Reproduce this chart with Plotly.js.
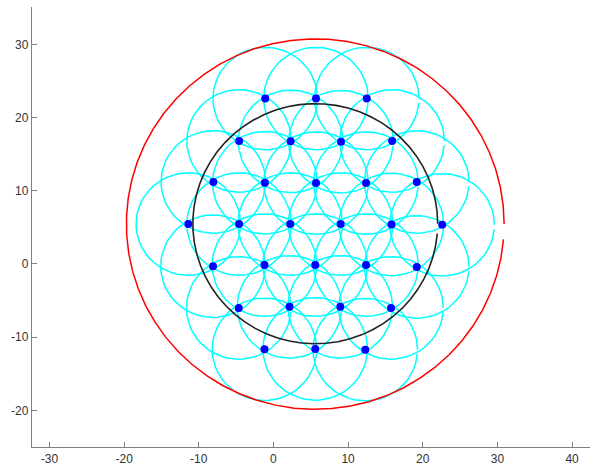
<!DOCTYPE html>
<html>
<head>
<meta charset="utf-8">
<script src="https://cdn.plot.ly/plotly-3.0.1.min.js"></script>
<style>html,body{margin:0;padding:0;background:#fff;} #chart{width:590px;height:465px;}</style>
</head>
<body>
<div id="chart"></div>
<script>
// Lattice points (blue dots)
const pointX = [
  -1.1, 5.7, 12.5,
  -4.6, 2.3, 9.05, 15.9,
  -8.05, -1.15, 5.7, 12.4, 19.2,
  -11.4, -4.6, 2.25, 9.0, 15.8, 22.6,
  -8.1, -1.2, 5.6, 12.4, 19.2,
  -4.65, 2.15, 8.95, 15.75,
  -1.2, 5.6, 12.3
];
const pointY = [
  22.6, 22.6, 22.6,
  16.8, 16.75, 16.7, 16.8,
  11.2, 11.1, 11.05, 11.05, 11.2,
  5.45, 5.45, 5.45, 5.45, 5.4, 5.35,
  -0.3, -0.15, -0.15, -0.15, -0.4,
  -6.0, -5.85, -5.85, -6.0,
  -11.65, -11.6, -11.7
];
const smallRadius = 7.0;          // cyan circle around each point
const innerCenter = [5.6, 5.5];   // black circle
const innerRadius = 16.4;
const outerCenter = [5.6, 5.45];  // red circle
const outerRadius = 25.3;
const thetaStep = 0.1, thetaEnd = 6.2; // polygon sampling (leaves small gap as in original)
const xTicks = [-30, -20, -10, 0, 10, 20, 30, 40];
const yTicks = [-20, -10, 0, 10, 20, 30];

function circlePath(cx, cy, r) {
  const xs = [], ys = [];
  for (let k = 0; k * thetaStep <= thetaEnd + 1e-9; k++) {
    const t = k * thetaStep;
    xs.push(cx + r * Math.cos(t));
    ys.push(cy + r * Math.sin(t));
  }
  return [xs, ys];
}

const cx = [], cy = [];
for (let i = 0; i < pointX.length; i++) {
  const [a, b] = circlePath(pointX[i], pointY[i], smallRadius);
  cx.push(...a, null); cy.push(...b, null);
}
const inner = circlePath(innerCenter[0], innerCenter[1], innerRadius);
const outer = circlePath(outerCenter[0], outerCenter[1], outerRadius);

const traces = [
  {x: cx, y: cy, mode: 'lines', line: {color: '#00ffff', width: 1.5}, connectgaps: false, hoverinfo: 'skip'},
  {x: inner[0], y: inner[1], mode: 'lines', line: {color: '#222222', width: 1.6}, hoverinfo: 'skip'},
  {x: outer[0], y: outer[1], mode: 'lines', line: {color: '#ff0000', width: 1.5}, hoverinfo: 'skip'},
  {x: pointX, y: pointY, mode: 'markers', marker: {color: '#0000ff', size: 8}}
];

const axisCommon = {
  showgrid: false, zeroline: false, showline: true, linecolor: '#808080', linewidth: 1.2,
  ticks: 'inside', ticklen: 5, tickcolor: '#808080', tickwidth: 1,
  tickfont: {family: 'Liberation Sans, Arial, sans-serif', size: 12, color: '#333333'},
  mirror: false, fixedrange: true
};

const layout = {
  width: 590, height: 465,
  margin: {l: 32, r: 0, t: 7, b: 18, pad: 0},
  paper_bgcolor: '#ffffff', plot_bgcolor: '#ffffff',
  showlegend: false,
  xaxis: Object.assign({}, axisCommon, {range: [-32.34, 42.4], tickvals: xTicks, ticktext: xTicks.map(String)}),
  yaxis: Object.assign({}, axisCommon, {range: [-25.0, 35.1], tickvals: yTicks, ticktext: yTicks.map(String)})
};

Plotly.newPlot('chart', traces, layout, {staticPlot: true, displayModeBar: false});
</script>
</body>
</html>
